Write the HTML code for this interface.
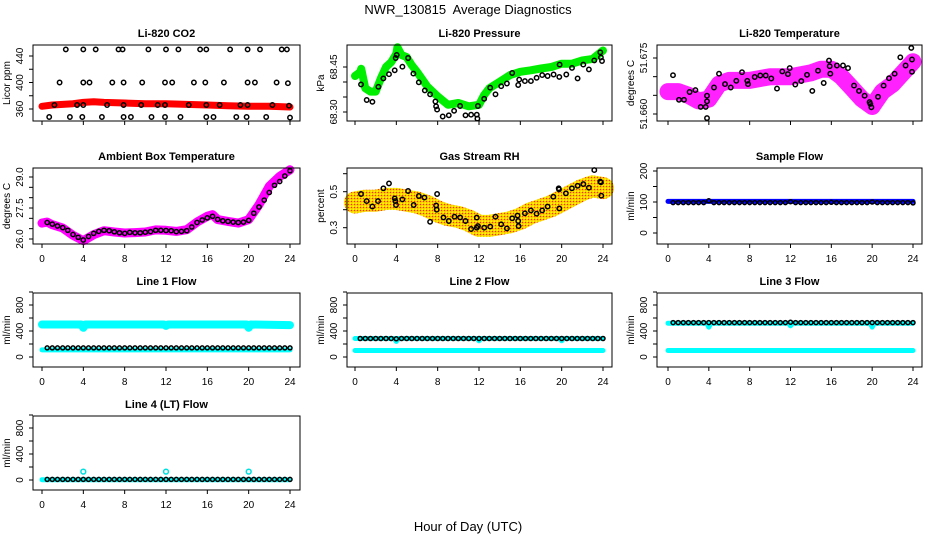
<!DOCTYPE html>
<html><head><meta charset="utf-8"><style>
html,body{margin:0;padding:0;background:#fff;}
svg{display:block;font-family:"Liberation Sans",sans-serif;}
</style></head><body>
<svg id="chart" width="936" height="540" viewBox="0 0 936 540" xmlns="http://www.w3.org/2000/svg">
<defs>
<pattern id="rhpat" width="3" height="3" patternUnits="userSpaceOnUse">
<rect width="3" height="3" fill="#ffc000"/><rect x="0" y="0" width="1" height="1" fill="#ff3000"/><rect x="1.5" y="1.5" width="1.5" height="1.5" fill="#ffff00"/>
</pattern>
</defs>
<text x="468" y="14" text-anchor="middle" font-size="13">NWR_130815&#160; Average Diagnostics</text>
<text x="468" y="531" text-anchor="middle" font-size="13">Hour of Day (UTC)</text>
</svg>
<script>
// ---------- data ----------
const xTicks = [0,4,8,12,16,20,24];
const halfHours = [0.5,1,1.5,2,2.5,3,3.5,4,4.5,5,5.5,6,6.5,7,7.5,8,8.5,9,9.5,10,10.5,11,11.5,12,12.5,13,13.5,14,14.5,15,15.5,16,16.5,17,17.5,18,18.5,19,19.5,20,20.5,21,21.5,22,22.5,23,23.5,24];

// CO2
const co2BandHours = [0,1,2,3,4,5,6,8,10,12,14,16,18,20,22,24];
const co2BandVals = [364,366,367,368,370,371,370,369,368,368,367,366,365,364,364,363];
const co2PtHours = [2.3,4.0,5.2,7.4,7.8,10.3,12.0,13.2,15.3,15.9,18.2,19.9,21.1,23.2,23.7,
 1.7,4.0,4.6,6.8,7.9,9.7,11.9,12.6,14.7,15.8,17.6,19.9,20.6,22.7,23.8,
 1.2,3.4,4.0,6.3,7.9,9.6,11.2,11.9,14.2,15.9,17.2,19.2,19.9,22.3,23.9,
 0.7,2.7,3.9,5.8,7.9,8.6,10.6,11.9,13.4,15.9,16.6,18.8,19.8,21.7,24.0];
const co2PtVals = [450,450,450,450,450,450,450,450,450,450,450,450,450,450,450,
 400,400,400,400,400,400,400,400,400,400,400,400,400,400,399,
 366,366,366,366,366,366,366,366,366,366,366,366,366,366,365,
 348,348,348,348,348,348,348,348,348,348,348,348,348,348,347];

// Pressure
const presBandHours = [0,0.5,0.6,1,1.5,2,2.5,3,3.5,4,4.1,4.5,5,5.5,6,7,8,9,10,11,12,12.5,13,14,15,16,17,18,19,20,21,22,23,24];
const presBandVals = [68.420,68.433,68.444,68.379,68.368,68.368,68.412,68.450,68.466,68.494,68.516,68.490,68.483,68.456,68.434,68.385,68.352,68.324,68.330,68.319,68.324,68.357,68.379,68.401,68.423,68.434,68.439,68.445,68.450,68.461,68.461,68.472,68.477,68.505];
const presPtHours = [0.58,1.13,1.68,2.26,2.75,3.29,3.84,3.94,4.04,4.59,5.14,5.65,6.17,6.75,7.27,7.78,7.85,7.95,8.49,9.08,9.59,10.17,10.69,11.24,11.79,11.85,11.89,12.50,13.08,13.60,14.15,14.70,15.21,15.79,15.89,16.44,17.02,17.57,18.12,18.64,19.22,19.77,19.80,20.45,21.00,21.54,22.09,22.64,23.16,23.74,23.80,23.90];
const presPtVals = [68.392,68.340,68.334,68.384,68.412,68.426,68.439,68.480,68.490,68.451,68.480,68.428,68.399,68.372,68.359,68.335,68.319,68.308,68.285,68.289,68.304,68.320,68.289,68.291,68.291,68.278,68.320,68.344,68.381,68.359,68.386,68.395,68.430,68.390,68.408,68.403,68.403,68.414,68.423,68.420,68.425,68.417,68.458,68.425,68.447,68.412,68.458,68.442,68.472,68.499,68.482,68.470];

// Li-820 temperature
const ltBandHours = [0,1,2,3,4,5,6,8,10,12,14,15,16,17,18,19,20,21,22,23,24];
const ltBandVals = [51.666,51.666,51.665,51.6635,51.664,51.668,51.669,51.669,51.670,51.670,51.671,51.672,51.672,51.670,51.667,51.664,51.662,51.666,51.668,51.671,51.674];
const ltPtHours = [0.49,1.08,1.57,2.12,2.68,3.20,3.69,3.82,3.82,3.82,4.51,5.00,5.58,6.14,6.69,7.25,7.77,7.84,8.49,9.04,9.57,10.12,10.68,11.20,11.75,11.92,12.47,13.06,13.62,14.14,14.69,15.25,15.77,15.84,15.90,16.55,17.14,17.63,18.22,18.71,19.26,19.75,19.82,19.92,20.57,21.12,21.65,22.20,22.76,23.28,23.83,23.90,23.90];
const ltPtVals = [51.6704,51.6638,51.6638,51.6659,51.6664,51.6619,51.6619,51.6634,51.6649,51.6589,51.6671,51.6708,51.6680,51.6671,51.6689,51.6712,51.6689,51.6680,51.6699,51.6703,51.6703,51.6695,51.6668,51.6714,51.6707,51.6723,51.6679,51.6688,51.6705,51.6662,51.6716,51.6683,51.6743,51.6728,51.6708,51.6730,51.6730,51.6723,51.6676,51.6662,51.6649,51.6632,51.6627,51.6618,51.6646,51.6676,51.6696,51.6708,51.6752,51.6730,51.6777,51.6746,51.6713];

// Ambient box temperature
const abBandHours = [0,0.5,1,2,3,4,5,6,7,8,9,10,11,12,13,14,15,16,16.5,17,18,19,20,21,22,23,24];
const abBandVals = [26.77,26.82,26.69,26.53,26.18,25.92,26.21,26.40,26.34,26.29,26.31,26.34,26.44,26.42,26.37,26.45,26.82,27.10,27.18,26.94,26.85,26.77,26.94,27.66,28.55,29.03,29.35];
const abPtVals = [26.80,26.72,26.63,26.55,26.42,26.22,26.08,25.95,26.12,26.27,26.37,26.42,26.40,26.35,26.30,26.27,26.32,26.30,26.30,26.33,26.36,26.42,26.42,26.41,26.40,26.36,26.37,26.40,26.58,26.80,26.92,27.02,27.10,26.95,26.88,26.85,26.82,26.80,26.82,26.90,27.25,27.55,27.88,28.25,28.60,28.78,29.05,29.30];

// Gas stream RH
const rhBandHours = [0,1,2,3,4,5,6,7,8,9,10,11,12,13,14,15,16,17,18,19,20,21,22,23,24];
const rhBandVals = [0.44,0.45,0.45,0.46,0.46,0.45,0.44,0.42,0.39,0.37,0.36,0.34,0.31,0.31,0.32,0.33,0.35,0.38,0.40,0.42,0.45,0.48,0.51,0.53,0.52];
const rhPtHours = [0.58,1.13,1.68,2.23,2.75,3.29,3.84,3.91,3.97,4.59,5.14,5.68,6.17,6.72,7.27,7.85,7.91,7.95,8.56,9.08,9.63,10.17,10.69,11.24,11.79,11.79,11.89,12.50,13.08,13.60,14.15,14.70,15.21,15.73,15.79,15.83,16.44,17.02,17.57,18.12,18.64,19.19,19.71,19.74,19.77,20.41,20.99,21.54,22.09,22.64,23.16,23.74,23.80,23.84];
const rhPtVals = [0.487,0.448,0.418,0.448,0.519,0.546,0.463,0.448,0.426,0.457,0.504,0.426,0.476,0.467,0.333,0.424,0.400,0.487,0.357,0.337,0.361,0.357,0.337,0.293,0.356,0.300,0.309,0.300,0.306,0.361,0.319,0.296,0.352,0.367,0.337,0.309,0.380,0.396,0.378,0.396,0.417,0.472,0.519,0.513,0.407,0.491,0.519,0.533,0.542,0.522,0.620,0.556,0.552,0.478];

// Sample flow
const sfBandHours = [0,24];
const sfBandVals = [102,102];
const sfPtVals = [98,98,98,98,98,98,98,104,98,98,98,98,98,98,98,98,98,98,98,98,98,98,98,101,98,98,98,98,98,98,98,99,98,98,98,98,98,98,98,100,98,98,98,98,98,98,98,97];

// Line flows
const l1HighHours = [0,3.8,4,4.2,11.8,12,12.2,19.8,20,20.2,24];
const l1HighVals = [500,500,450,500,500,480,500,500,450,500,490];
const l1LowHours = [0,24];
const l1LowVals = [110,110];
const l1PtVals = [140,140,140,140,140,140,140,140,140,140,140,140,140,140,140,140,140,140,140,140,140,140,140,140,140,140,140,140,140,140,140,140,140,140,140,140,140,140,140,140,140,140,140,140,140,140,140,140];
const l2HighHours = [0,3.8,4,4.2,11.8,12,12.2,19.8,20,20.2,24];
const l2HighVals = [285,285,240,285,285,250,285,285,250,285,285];
const l2LowHours = [0,24];
const l2LowVals = [100,100];
const l2PtVals = [285,285,285,285,285,285,285,280,285,285,285,285,285,285,285,285,285,285,285,285,285,285,285,285,285,285,285,285,285,285,285,285,285,285,285,285,285,285,285,285,285,285,285,285,285,285,285,285];
const l3HighHours = [0,3.8,4,4.2,11.8,12,12.2,19.8,20,20.2,24];
const l3HighVals = [520,520,460,520,520,480,520,520,460,520,520];
const l3LowHours = [0,24];
const l3LowVals = [100,100];
const l3PtVals = [530,530,530,530,530,530,530,530,530,530,530,530,530,530,530,530,530,530,530,530,530,530,530,535,530,530,530,530,530,530,530,530,530,530,530,530,530,530,530,530,530,530,530,530,530,530,530,530];
const l4BandHours = [0,24];
const l4BandVals = [5,5];
const l4SpikeHours = [4,12,20];
const l4SpikeVals = [130,130,130];
const l4PtVals = [10,10,10,10,10,10,10,10,10,10,10,10,10,10,10,10,10,10,10,10,10,10,10,10,10,10,10,10,10,10,10,10,10,10,10,10,10,10,10,10,10,10,10,10,10,10,10,10];

const coTicks=[360,380,400,420,440], coLabels=[360,400,440];
const prTicks=[68.30,68.35,68.40,68.45], prLabels=[68.30,68.45];
const ltTicks=[51.660,51.665,51.670,51.675], ltLabels=[51.660,51.675];
const abTicks=[26.0,26.5,27.0,27.5,28.0,28.5,29.0], abLabels=[26.0,27.5,29.0];
const rhTicks=[0.3,0.4,0.5,0.6], rhLabels=[0.3,0.5];
const sfTicks=[0,50,100,150,200], sfLabels=[0,100,200];
const flTicks=[0,200,400,600,800,1000], flLabels=[0,400,800];

// ---------- drawing ----------
const NS='http://www.w3.org/2000/svg';
const svg=document.getElementById('chart');
function mk(tag,parent){const e=document.createElementNS(NS,tag);parent.appendChild(e);return e;}
const COLS=[{l:33,r:300,x0:42,x24:290},{l:347,r:612,x0:355,x24:603},{l:657,r:922,x0:668,x24:913}];
const ROWS=[{t:45,b:121},{t:168,b:244},{t:293,b:367},{t:416,b:490}];

function panel(p){
  const c=COLS[p.col], rw=ROWS[p.row];
  const g=mk('g',svg);
  
  
  const xs=h=>c.x0+h*(c.x24-c.x0)/24;
  const ys=v=>p.py1+(v-p.v1)*(p.py2-p.py1)/(p.v2-p.v1);
  const fmt=p.fmt||(v=>String(v));
  (p.bands||[]).forEach(b=>{
    const pl=mk('polyline',g);
    
    
    pl.setAttribute('points',b.h.map((h,i)=>xs(h).toFixed(1)+','+ys(b.v[i]).toFixed(1)).join(' '));
    pl.setAttribute('fill','none');pl.setAttribute('stroke',b.color);
    pl.setAttribute('stroke-width',b.w);pl.setAttribute('stroke-linecap','round');pl.setAttribute('stroke-linejoin','round');
  });
  (p.pts||[]).forEach(s=>{
    s.h.forEach((h,i)=>{
      const ci=mk('circle',g);
      
      
      ci.setAttribute('cx',xs(h).toFixed(1));ci.setAttribute('cy',ys(s.v[i]).toFixed(1));
      ci.setAttribute('r',s.r||2.2);ci.setAttribute('fill','none');
      ci.setAttribute('stroke',s.color);ci.setAttribute('stroke-width',s.sw||1.5);
    });
  });
  const bx=mk('rect',g);
  
  
  bx.setAttribute('x',c.l);bx.setAttribute('y',rw.t);bx.setAttribute('width',c.r-c.l);bx.setAttribute('height',rw.b-rw.t);
  bx.setAttribute('fill','none');bx.setAttribute('stroke','#000');bx.setAttribute('stroke-width','1');
  xTicks.forEach(t=>{
    const ln=mk('line',g);
    
    
    ln.setAttribute('x1',xs(t));ln.setAttribute('x2',xs(t));ln.setAttribute('y1',rw.b);ln.setAttribute('y2',rw.b+4);ln.setAttribute('stroke','#000');
    if(p.row>0){
      const tx=mk('text',g);
      
      
      tx.setAttribute('x',xs(t));tx.setAttribute('y',rw.b+18);tx.setAttribute('text-anchor','middle');tx.setAttribute('font-size','10');
      tx.textContent=t;
    }
  });
  p.yt.forEach(t=>{
    const y=ys(t);
    if(y<rw.t-2||y>rw.b+2)return;
    const ln=mk('line',g);
    
    
    ln.setAttribute('x1',c.l-4);ln.setAttribute('x2',c.l);ln.setAttribute('y1',y);ln.setAttribute('y2',y);ln.setAttribute('stroke','#000');
  });
  p.yl.forEach(t=>{
    const y=ys(t), x=c.l-10;
    const tx=mk('text',g);
    
    
    tx.setAttribute('x',x);tx.setAttribute('y',y);tx.setAttribute('text-anchor','middle');tx.setAttribute('font-size','10');
    tx.setAttribute('transform','rotate(-90 '+x+' '+y+')');
    tx.textContent=fmt(t);
  });
  const yt=mk('text',g);
  
  
  const yx=c.l-23, ym=(rw.t+rw.b)/2;
  yt.setAttribute('x',yx);yt.setAttribute('y',ym);yt.setAttribute('text-anchor','middle');yt.setAttribute('font-size','10');
  yt.setAttribute('transform','rotate(-90 '+yx+' '+ym+')');
  yt.textContent=p.ylab;
  const tt=mk('text',g);
  
  
  tt.setAttribute('x',(c.l+c.r)/2);tt.setAttribute('y',rw.t-8);tt.setAttribute('text-anchor','middle');tt.setAttribute('font-size','11');tt.setAttribute('font-weight','bold');
  tt.textContent=p.title;
}

panel({name:'co2-panel',title:'Li-820 CO2',ylab:'Licor ppm',col:0,row:0,v1:360,py1:109,v2:440,py2:56,yt:coTicks,yl:coLabels,
  bands:[{name:'co2-band',h:co2BandHours,v:co2BandVals,color:'#ff0000',w:7}],
  pts:[{name:'co2-point',h:co2PtHours,v:co2PtVals,color:'#000'}]});
panel({name:'pressure-panel',title:'Li-820 Pressure',ylab:'kPa',col:1,row:0,v1:68.30,py1:112,v2:68.45,py2:67,yt:prTicks,yl:prLabels,fmt:v=>v.toFixed(2),
  bands:[{name:'pressure-band',h:presBandHours,v:presBandVals,color:'#00ee00',w:8}],
  pts:[{name:'pressure-point',h:presPtHours,v:presPtVals,color:'#000'}]});
panel({name:'li820-temp-panel',title:'Li-820 Temperature',ylab:'degrees C',col:2,row:0,v1:51.660,py1:114,v2:51.675,py2:58,yt:ltTicks,yl:ltLabels,fmt:v=>v.toFixed(3),
  bands:[{name:'li820-temp-band',h:ltBandHours,v:ltBandVals,color:'#ff22ff',w:17}],
  pts:[{name:'li820-temp-point',h:ltPtHours,v:ltPtVals,color:'#000'}]});
panel({name:'ambient-temp-panel',title:'Ambient Box Temperature',ylab:'degrees C',col:0,row:1,v1:26.0,py1:239,v2:29.0,py2:177,yt:abTicks,yl:abLabels,fmt:v=>v.toFixed(1),
  bands:[{name:'ambient-temp-band',h:abBandHours,v:abBandVals,color:'#ff00ff',w:9}],
  pts:[{name:'ambient-temp-point',h:halfHours,v:abPtVals,color:'#000',r:2.1}]});
panel({name:'rh-panel',title:'Gas Stream RH',ylab:'percent',col:1,row:1,v1:0.3,py1:227.7,v2:0.5,py2:191.7,yt:rhTicks,yl:rhLabels,fmt:v=>v.toFixed(1),
  bands:[{name:'rh-band',h:rhBandHours,v:rhBandVals,color:'url(#rhpat)',w:22}],
  pts:[{name:'rh-point',h:rhPtHours,v:rhPtVals,color:'#000'}]});
panel({name:'sample-flow-panel',title:'Sample Flow',ylab:'ml/min',col:2,row:1,v1:0,py1:233,v2:200,py2:171,yt:sfTicks,yl:sfLabels,
  bands:[{name:'sample-flow-band',h:sfBandHours,v:sfBandVals,color:'#0000ff',w:5}],
  pts:[{name:'sample-flow-point',h:halfHours,v:sfPtVals,color:'#000',r:2}]});
panel({name:'line1-flow-panel',title:'Line 1 Flow',ylab:'ml/min',col:0,row:2,v1:0,py1:357,v2:800,py2:305,yt:flTicks,yl:flLabels,
  bands:[{name:'line1-high-band',h:l1HighHours,v:l1HighVals,color:'#00ffff',w:8},{name:'line1-low-band',h:l1LowHours,v:l1LowVals,color:'#00ffff',w:5}],
  pts:[{name:'line1-point',h:halfHours,v:l1PtVals,color:'#000',r:2}]});
panel({name:'line2-flow-panel',title:'Line 2 Flow',ylab:'ml/min',col:1,row:2,v1:0,py1:357,v2:800,py2:305,yt:flTicks,yl:flLabels,
  bands:[{name:'line2-high-band',h:l2HighHours,v:l2HighVals,color:'#00ffff',w:5},{name:'line2-low-band',h:l2LowHours,v:l2LowVals,color:'#00ffff',w:5}],
  pts:[{name:'line2-point',h:halfHours,v:l2PtVals,color:'#000',r:2}]});
panel({name:'line3-flow-panel',title:'Line 3 Flow',ylab:'ml/min',col:2,row:2,v1:0,py1:357,v2:800,py2:305,yt:flTicks,yl:flLabels,
  bands:[{name:'line3-high-band',h:l3HighHours,v:l3HighVals,color:'#00ffff',w:5},{name:'line3-low-band',h:l3LowHours,v:l3LowVals,color:'#00ffff',w:5}],
  pts:[{name:'line3-point',h:halfHours,v:l3PtVals,color:'#000',r:2}]});
panel({name:'line4-flow-panel',title:'Line 4 (LT) Flow',ylab:'ml/min',col:0,row:3,v1:0,py1:480,v2:800,py2:428,yt:flTicks,yl:flLabels,
  bands:[{name:'line4-band',h:l4BandHours,v:l4BandVals,color:'#00ffff',w:5}],
  pts:[{name:'line4-spike',h:l4SpikeHours,v:l4SpikeVals,color:'#00e0e0',r:2.4},{name:'line4-point',h:halfHours,v:l4PtVals,color:'#000',r:2}]});
</script>
</body></html>
